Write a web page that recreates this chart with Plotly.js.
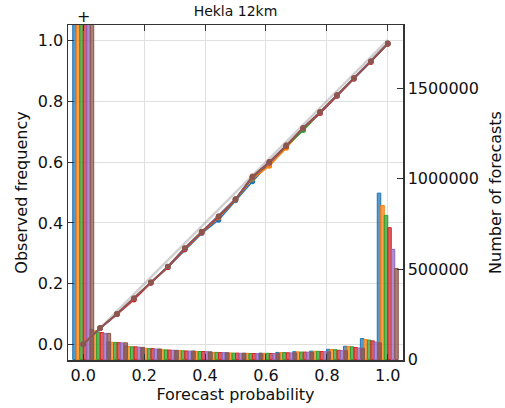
<!DOCTYPE html>
<html>
<head>
<meta charset="utf-8">
<script src="https://cdn.plot.ly/plotly-3.0.1.min.js"></script>
<style>html,body{margin:0;padding:0;background:#fff;}</style>
</head>
<body>
<div id="chart" style="width:505px;height:408px;"></div>
<script>
// Forecast probability values (18-member ensemble: k/18)
var probs = [0, 1/18, 2/18, 3/18, 4/18, 5/18, 6/18, 7/18, 8/18, 9/18, 10/18,
             11/18, 12/18, 13/18, 14/18, 15/18, 16/18, 17/18, 1];

// Observed frequency per series
var obs1 = [0.002, 0.054, 0.101, 0.151, 0.204, 0.255, 0.312, 0.366, 0.410, 0.474, 0.536, 0.595, 0.650, 0.710, 0.763, 0.818, 0.874, 0.929, 0.988];
var obs2 = [0.002, 0.055, 0.102, 0.152, 0.205, 0.256, 0.314, 0.368, 0.418, 0.476, 0.545, 0.587, 0.646, 0.709, 0.762, 0.819, 0.875, 0.930, 0.989];
var obs3 = [0.002, 0.055, 0.101, 0.152, 0.204, 0.256, 0.315, 0.369, 0.420, 0.477, 0.548, 0.598, 0.652, 0.704, 0.762, 0.818, 0.874, 0.930, 0.989];
var obs4 = [0.002, 0.054, 0.100, 0.148, 0.203, 0.254, 0.314, 0.369, 0.420, 0.477, 0.550, 0.598, 0.653, 0.711, 0.760, 0.817, 0.873, 0.928, 0.988];
var obs5 = [0.002, 0.055, 0.102, 0.153, 0.205, 0.257, 0.317, 0.371, 0.422, 0.479, 0.552, 0.600, 0.655, 0.712, 0.764, 0.820, 0.876, 0.931, 0.990];
var obs6 = [0.002, 0.055, 0.102, 0.153, 0.205, 0.257, 0.318, 0.372, 0.422, 0.479, 0.553, 0.601, 0.655, 0.713, 0.765, 0.820, 0.876, 0.931, 0.990];

// Number of forecasts per series
var cnt1 = [2450000, 166000, 97000, 75000, 64000, 55000, 50000, 46000, 40000, 36000, 34000, 35000, 39000, 43000, 46000, 56000, 73000, 116000, 920000];
var cnt2 = [2400000, 158000, 95000, 72000, 62000, 54000, 49000, 45000, 39000, 36000, 34000, 34000, 38000, 42000, 45000, 55000, 72000, 110000, 852000];
var cnt3 = [2350000, 152000, 94000, 70000, 60000, 53000, 48000, 44000, 39000, 35000, 33000, 34000, 38000, 41000, 45000, 54000, 70000, 107000, 797000];
var cnt4 = [2300000, 149000, 93000, 70000, 60000, 52000, 47000, 44000, 38000, 35000, 33000, 33000, 37000, 41000, 44000, 51000, 66000, 103000, 729000];
var cnt5 = [2250000, 144000, 92000, 68000, 58000, 51000, 46000, 43000, 38000, 34000, 32000, 33000, 36000, 40000, 43000, 49000, 63000, 96000, 609000];
var cnt6 = [2200000, 144000, 92000, 67000, 58000, 50000, 46000, 42000, 37000, 34000, 32000, 32000, 36000, 39000, 42000, 48000, 62000, 92000, 503000];

var diagX = [0, 1];
var diagY = [0, 1];

var yTicks = [0, 500000, 1000000, 1500000];

var colors = ['#1f77b4', '#ff7f0e', '#2ca02c', '#d62728', '#9467bd', '#8c564b'];
var fills = ['rgba(31,119,180,0.75)', 'rgba(255,127,14,0.75)', 'rgba(44,160,44,0.75)',
             'rgba(214,39,40,0.75)', 'rgba(148,103,189,0.75)', 'rgba(140,86,75,0.75)'];
var obsAll = [obs1, obs2, obs3, obs4, obs5, obs6];
var cntAll = [cnt1, cnt2, cnt3, cnt4, cnt5, cnt6];

var traces = [];
var bw = 0.0115;
for (var i = 0; i < 6; i++) {
  traces.push({
    type: 'bar', x: probs, y: cntAll[i], yaxis: 'y', xaxis: 'x',
    width: bw, offset: -3 * bw + i * bw,
    marker: {color: fills[i], line: {color: colors[i], width: 1}},
    hoverinfo: 'skip', showlegend: false
  });
}
traces.push({
  type: 'scatter', mode: 'lines', x: diagX, y: diagY, yaxis: 'y2',
  line: {color: 'rgba(150,150,150,0.45)', width: 2.5}, showlegend: false
});
for (var j = 0; j < 6; j++) {
  traces.push({
    type: 'scatter', mode: 'lines+markers', x: probs, y: obsAll[j], yaxis: 'y2',
    line: {color: colors[j], width: 1.6},
    marker: {color: colors[j], size: 5.5},
    showlegend: false
  });
}

var axisCommon = {
  ticks: 'inside', ticklen: 6, tickwidth: 1, tickcolor: '#333',
  showline: true, linecolor: '#333', linewidth: 1.5,
  zeroline: false, tickfont: {size: 16, color: '#111'}
};

var layout = {
  width: 505, height: 408,
  margin: {l: 68, r: 102, t: 25, b: 48, pad: 0},
  paper_bgcolor: '#fff', plot_bgcolor: '#fff',
  font: {family: 'DejaVu Sans', color: '#111'},
  showlegend: false,
  barmode: 'overlay',
  title: {text: 'Hekla 12km', font: {size: 14, color: '#111'}, x: 0.5, xref: 'paper',
          y: 1 - 11 / 408, yref: 'container', yanchor: 'middle'},
  xaxis: Object.assign({}, axisCommon, {
    range: [-0.05, 1.05], tick0: 0, dtick: 0.2, tickformat: '.1f',
    mirror: 'ticks', showgrid: true, gridcolor: '#e0e0e0', gridwidth: 1,
    title: {text: 'Forecast probability', font: {size: 16, color: '#111'}, standoff: 4}
  }),
  yaxis: Object.assign({}, axisCommon, {
    side: 'right', range: [-3000, 1850000], tickvals: yTicks, tickformat: 'd',
    showgrid: false,
    title: {text: 'Number of forecasts', font: {size: 16, color: '#111'}, standoff: 12}
  }),
  yaxis2: Object.assign({}, axisCommon, {
    overlaying: 'y', side: 'left', range: [-0.05, 1.05], tick0: 0, dtick: 0.2,
    tickformat: '.1f', showgrid: true, gridcolor: '#e0e0e0', gridwidth: 1,
    title: {text: 'Observed frequency', font: {size: 16, color: '#111'}, standoff: 6}
  }),
  annotations: [{
    text: '+', x: 0, xref: 'x', y: 1, yref: 'paper', yanchor: 'bottom',
    showarrow: false, font: {size: 16, color: '#111'}, yshift: -3
  }]
};

Plotly.newPlot('chart', traces, layout, {displayModeBar: false, staticPlot: true});
</script>
</body>
</html>
